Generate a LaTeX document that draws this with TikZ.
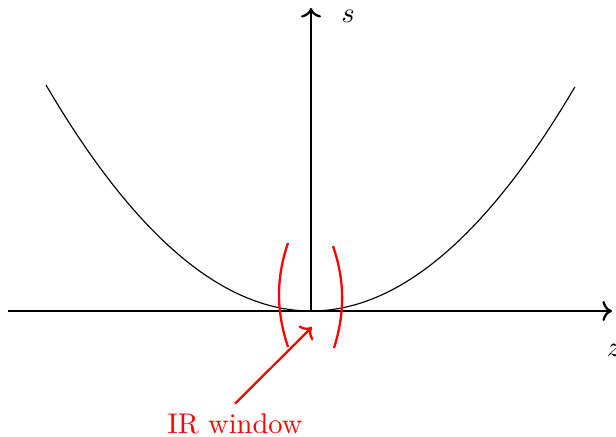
\documentclass[tikz,border=0pt]{standalone}
\usepackage{xcolor}
\usepackage{tikz}
\usetikzlibrary{arrows.meta, positioning, calc}
\tikzset{
  eje/.style={->, thick, color=black},
  curva/.style={thin, color=black},
  ventana/.style={thick, color=red},
  etiqueta/.style={color=red},
}

\begin{document}
\begin{tikzpicture}[x=1.2336cm, y=1.2336cm]
  \useasboundingbox (-3.11,-1.25) rectangle (3.05,3.11);
  \coordinate (o) at (0,0);
  \coordinate (zfin) at (3.01,0);
  \coordinate (zini) at (-3.03,0);
  \coordinate (sfin) at (0,3.03);
  \draw[eje] (zini) -- (zfin);
  \draw[eje] (o) -- (sfin);
  \node (s) at (0.37,2.95) {$s$};
  \node (z) at (3.03,-0.39) {$z$};
  \draw[curva] plot[domain=-2.65:2.64, samples=80, smooth] (\x, {0.3218*\x*\x});
  % ventana IR
  \draw[ventana] (-0.23,0.68) .. controls (-0.35,0.33) and (-0.35,0.0) .. (-0.23,-0.36);
  \draw[ventana] (0.22,0.65) .. controls (0.34,0.30) and (0.34,-0.02) .. (0.23,-0.37);
  \node[etiqueta] (ir) at (-0.76,-1.13) {IR window};
  \coordinate (win) at (0.01,-0.16);
  \draw[ventana, ->] (ir.north) -- (win);
\end{tikzpicture}
\end{document}
